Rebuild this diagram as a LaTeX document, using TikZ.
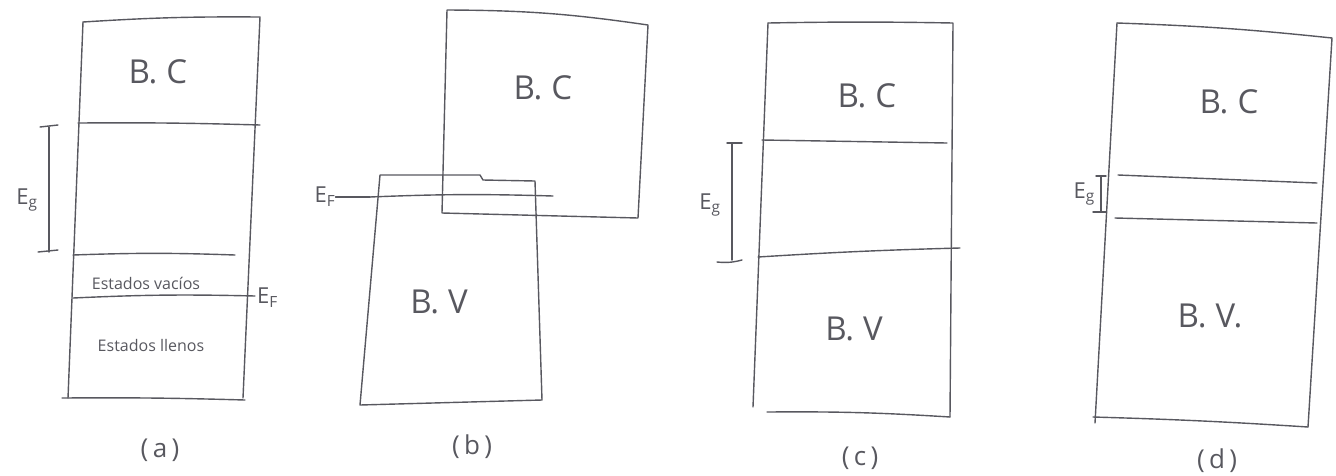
\documentclass[tikz,border=0pt]{standalone}
\usepackage{fontspec}
\setmainfont{Open Sans}
\newcommand{\bandname}[2]{#1.\hspace{9pt}#2}
\begin{document}
\begin{tikzpicture}[x=1pt,y=-1pt,
  pen/.style={draw=ink, line width=1.4pt, line cap=round, line join=round},
  lbl/.style={text=ink, font=\fontsize{33}{35}\selectfont, inner sep=0pt},
  small/.style={text=ink, font=\fontsize{16}{18}\selectfont, inner sep=0pt},
  panelcap/.style={text=ink, font=\fontsize{26}{28}\selectfont, inner sep=0pt},
  sym/.style={text=ink, font=\fontsize{22}{24}\selectfont, inner sep=0pt}]
\definecolor{ink}{RGB}{88,88,95}
\useasboundingbox (0,0) rectangle (1336,475);

% ---------- (a) ----------
\draw[pen] (83,22) to[bend left=2] (260,17) -- (243,398);
\draw[pen] (83,22) -- (68,398);
\draw[pen] (62,398) to[bend left=1] (245,400);
\draw[pen] (78,123) to[bend left=1] (260,125);
\draw[pen] (73,255) to[bend left=2] (235,255);
\coordinate (efa) at (255,296);
\draw[pen] (73,298) to[bend left=2] (efa);
\node[sym, anchor=west] (EFa) at (257,298) {E\textsubscript{F}};
\draw[pen] (49,127) -- (49,252);
\draw[pen] (40,127) -- (58,125);
\draw[pen] (38,252) -- (58,250);
\node[sym] (EGa) at (27,200) {E\textsubscript{g}};
\node[lbl] (BCa) at (158,72) {\bandname{B}{C}};
\node[small] (vac) at (146,283) {Estados vacíos};
\node[small] (lle) at (151,345) {Estados llenos};
\node[panelcap] (ca) at (160,450) {(\,a\,)};

% ---------- (b) ----------
\draw[pen] (447,10) to[bend left=4] (648,25) -- (638,218) -- (442,213) -- cycle;
\draw[pen] (380,175) -- (480,175) -- (483,180) -- (535,181) -- (542,400) -- (360,405) -- cycle;
\coordinate (efb) at (553,196);
\draw[pen] (370,197) to[bend left=2] (efb);
\node[sym] (EFb) at (325,197) {E\textsubscript{F}};
\draw[pen] (EFb.east) -- (370,197);
\node[lbl] (BCb) at (543,88) {\bandname{B}{C}};
\node[lbl] (BVb) at (439,302) {\bandname{B}{V}};
\node[panelcap] (cb) at (472,447) {(\,b\,)};

% ---------- (c) ----------
\draw[pen] (768,23) to[bend left=1] (953,23) -- (950,417);
\draw[pen] (768,23) -- (753,407);
\draw[pen] (767,412) to[bend left=2] (950,417);
\draw[pen] (762,140) -- (947,143);
\draw[pen] (758,257) to[bend left=1] (960,248);
\draw[pen] (732,143) -- (732,260);
\draw[pen] (727,143) -- (742,143);
\draw[pen] (717,262) to[bend right=10] (742,260);
\node[sym] (EGc) at (710,205) {E\textsubscript{g}};
\node[lbl] (BCc) at (867,96) {\bandname{B}{C}};
\node[lbl] (BVc) at (854,329) {\bandname{B}{V}};
\node[panelcap] (cc) at (860,458) {(\,c\,)};

% ---------- (d) ----------
\draw[pen] (1117,23) to[bend left=2] (1332,38) -- (1308,427);
\draw[pen] (1117,23) -- (1095,423);
\draw[pen] (1093,417) to[bend left=1] (1308,427);
\draw[pen] (1118,175) -- (1317,183);
\draw[pen] (1115,218) -- (1317,223);
\draw[pen] (1101,176) -- (1101,212);
\draw[pen] (1096,176) -- (1106,176);
\draw[pen] (1093,212) -- (1106,212);
\node[sym, anchor=east] (EGd) at (1095,194) {E\textsubscript{g}};
\node[lbl] (BCd) at (1229,102) {\bandname{B}{C}};
\node[lbl] (BVd) at (1210,316) {\bandname{B}{V.}};
\node[panelcap] (cd) at (1217,461) {(\,d\,)};
\end{tikzpicture}
\end{document}
